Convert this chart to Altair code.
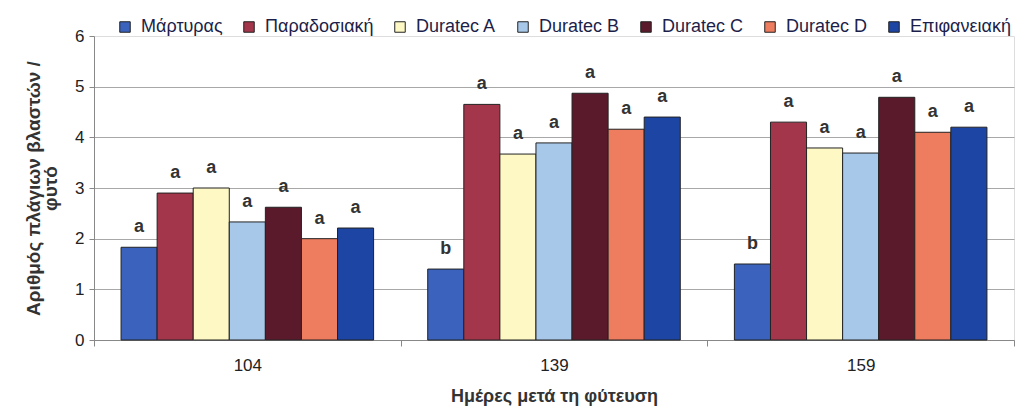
import altair as alt
import pandas as pd

days = ["104", "139", "159"]
treatments = ["Μάρτυρας", "Παραδοσιακή", "Duratec A", "Duratec B",
              "Duratec C", "Duratec D", "Επιφανειακή"]
colors = ["#3b62bd", "#a3364a", "#fdf8c4", "#a8c8ea", "#5b1a2c", "#ee7c5f", "#1d45a3"]

v_martyras = [1.83, 1.40, 1.50]
v_paradosiaki = [2.90, 4.65, 4.30]
v_duratec_a = [3.00, 3.67, 3.79]
v_duratec_b = [2.33, 3.89, 3.69]
v_duratec_c = [2.62, 4.87, 4.79]
v_duratec_d = [2.00, 4.16, 4.10]
v_epifaneiaki = [2.21, 4.40, 4.20]

l_martyras = ["a", "b", "b"]
l_other = ["a", "a", "a"]

series = [v_martyras, v_paradosiaki, v_duratec_a, v_duratec_b,
          v_duratec_c, v_duratec_d, v_epifaneiaki]
letters = [l_martyras] + [l_other] * 6

rows = []
for t, vals, lets in zip(treatments, series, letters):
    for d, v, l in zip(days, vals, lets):
        rows.append({"day": d, "treatment": t, "value": v, "letter": l})
df = pd.DataFrame(rows)

FONT = "Liberation Sans"

x_enc = alt.X("day:N", sort=days,
              scale=alt.Scale(paddingInner=0, paddingOuter=0),
              axis=alt.Axis(title="Ημέρες μετά τη φύτευση", labelAngle=0,
                            tickBand="extent", tickSize=6, tickColor="#888",
                            domainColor="#888", labelFontSize=17, labelColor="#222",
                            labelPadding=11, titleFontSize=18, titleFontWeight="bold",
                            titleColor="#333", titlePadding=14, grid=False))
xo_enc = alt.XOffset("treatment:N", sort=treatments,
                     scale=alt.Scale(paddingOuter=0.75, paddingInner=0))
y_enc = alt.Y("value:Q",
              scale=alt.Scale(domain=[0, 6], nice=False),
              axis=alt.Axis(title=["Αριθμός πλάγιων βλαστών /", "φυτό"],
                            values=[0, 1, 2, 3, 4, 5, 6], tickSize=5,
                            tickColor="#888", domainColor="#888",
                            gridColor="#a8a8a8",
                            gridOpacity={"condition": {"test": "datum.value == 6", "value": 0}, "value": 1},
                            labelFontSize=17, labelColor="#222", labelPadding=5,
                            titleFontSize=19, titleFontWeight="bold", titleColor="#333",
                            titlePadding=14, titleLineHeight=17))
color_enc = alt.Color("treatment:N", sort=treatments,
                      scale=alt.Scale(domain=treatments, range=colors),
                      legend=alt.Legend(title=None, orient="none", direction="horizontal",
                                        legendX=22, legendY=-18, symbolType="square",
                                        symbolSize=110, symbolStrokeColor="#222",
                                        symbolStrokeWidth=1, labelFontSize=18,
                                        labelColor="#1c1f4a", labelOffset=7,
                                        columnPadding=17, labelFont=FONT))

bars = alt.Chart(df).mark_bar(stroke="#222", strokeWidth=1).encode(
    x=x_enc, xOffset=xo_enc, y=y_enc, color=color_enc)

labels = alt.Chart(df).mark_text(dy=-20, baseline="middle", fontSize=18,
                                 fontWeight="bold", color="#333", font=FONT).encode(
    x=alt.X("day:N", sort=days), xOffset=alt.XOffset("treatment:N", sort=treatments),
    y="value:Q", text="letter:N")

chart = alt.layer(bars, labels).properties(
    width=920, height=304,
    autosize=alt.AutoSizeParams(type="none"),
    padding={"left": 86, "top": 28, "right": 5, "bottom": 70},
    background="white",
).configure_view(stroke=None).configure(font=FONT)

chart.save("out.html", embed_options={"renderer": "svg", "actions": False})
